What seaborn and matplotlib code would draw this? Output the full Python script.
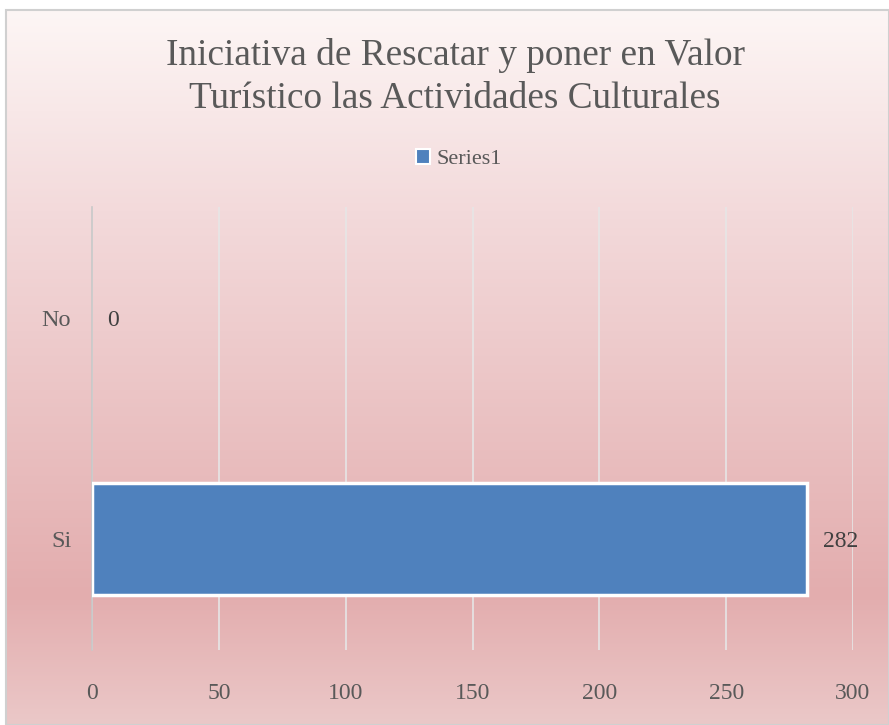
import numpy as np
import pandas as pd
import seaborn as sns
import matplotlib.pyplot as plt
from matplotlib.colors import LinearSegmentedColormap
from matplotlib.patches import Rectangle

# datos del grafico
categorias = ["No", "Si"]
valores = [0, 282]
serie = "Series1"
titulo = ["Iniciativa de Rescatar y poner en Valor",
          "Turístico las Actividades Culturales"]
ticks_x = [0, 50, 100, 150, 200, 250, 300]

df = pd.DataFrame({"categoria": categorias, "valor": valores})

sns.set_style("white")
plt.rcParams["font.family"] = ["Liberation Serif", "DejaVu Serif"]

W, H = 889, 725
fig = plt.figure(figsize=(W / 100, H / 100), dpi=100)
fig.patch.set_facecolor("white")

# fondo degradado del area del grafico
bg = fig.add_axes([6 / W, 0, 1 - 6 / W, 1 - 10 / H], zorder=-5)
cmap = LinearSegmentedColormap.from_list(
    "rosa",
    [(0.0, "#fdf6f5"), (0.28, "#f3dadb"), (0.82, "#e3adae"), (1.0, "#ebc8c8")],
)
grad = np.linspace(0, 1, 256).reshape(-1, 1)
bg.imshow(grad, aspect="auto", cmap=cmap, extent=[0, 1, 0, 1])
bg.set_axis_off()
bg.add_patch(Rectangle((0, 0), 1, 1, transform=bg.transAxes, fill=False,
                       edgecolor="#d0d0d0", lw=1.5, clip_on=False))

ax = fig.add_axes([92 / W, 1 - 650 / H, (853 - 92) / W, (650 - 207) / H])
ax.patch.set_alpha(0)

sns.barplot(data=df, x="valor", y="categoria", orient="h", color="#4f81bd",
            saturation=1, width=0.505, edgecolor="white", linewidth=2.5,
            label=serie, ax=ax, zorder=3)

# sin borde en la barra de valor cero
for p, v in zip(ax.patches, valores):
    if v == 0:
        p.set_linewidth(0)

ax.set_xlim(0, 300)
ax.set_ylim(1.5, -0.5)
ax.set_xticks(ticks_x)
ax.xaxis.grid(True, color="#e6e6e6", lw=1.2, zorder=0)
ax.set_xlabel("")
ax.set_ylabel("")
for s in ["top", "right", "bottom"]:
    ax.spines[s].set_visible(False)
ax.spines["left"].set_color("#c8c8c8")
ax.spines["left"].set_linewidth(1.2)

ax.tick_params(axis="x", length=0, pad=24, labelsize=17, labelcolor="#595959")
ax.set_yticks([-0.5, 0.5, 1.5], minor=True)
ax.tick_params(axis="y", which="minor", length=5, color="#c8c8c8", width=1.2)
ax.tick_params(axis="y", which="major", length=0, pad=15, labelsize=17.5,
               labelcolor="#595959")

for cont in ax.containers:
    lbl = ax.bar_label(cont, labels=[str(v) for v in valores], padding=11,
                       fontsize=17, color="#404040")
    for t in lbl:
        t.set_va("center_baseline")

fig.text(455 / W, 1 - 65 / H, titulo[0], ha="center", va="baseline",
         fontsize=26.8, color="#595959")
fig.text(455 / W, 1 - 108 / H, titulo[1], ha="center", va="baseline",
         fontsize=26.8, color="#595959")

leg = ax.legend(loc="center",
                bbox_to_anchor=((459 - 92) / (853 - 92), 1 + (207 - 159) / (650 - 207)),
                frameon=False, fontsize=16, handlelength=0.65, handleheight=0.65,
                handletextpad=0.3, labelcolor="#595959")
for h in leg.legend_handles:
    h.set_edgecolor("white")
    h.set_linewidth(1.5)

fig.savefig("out.png", dpi=100)
